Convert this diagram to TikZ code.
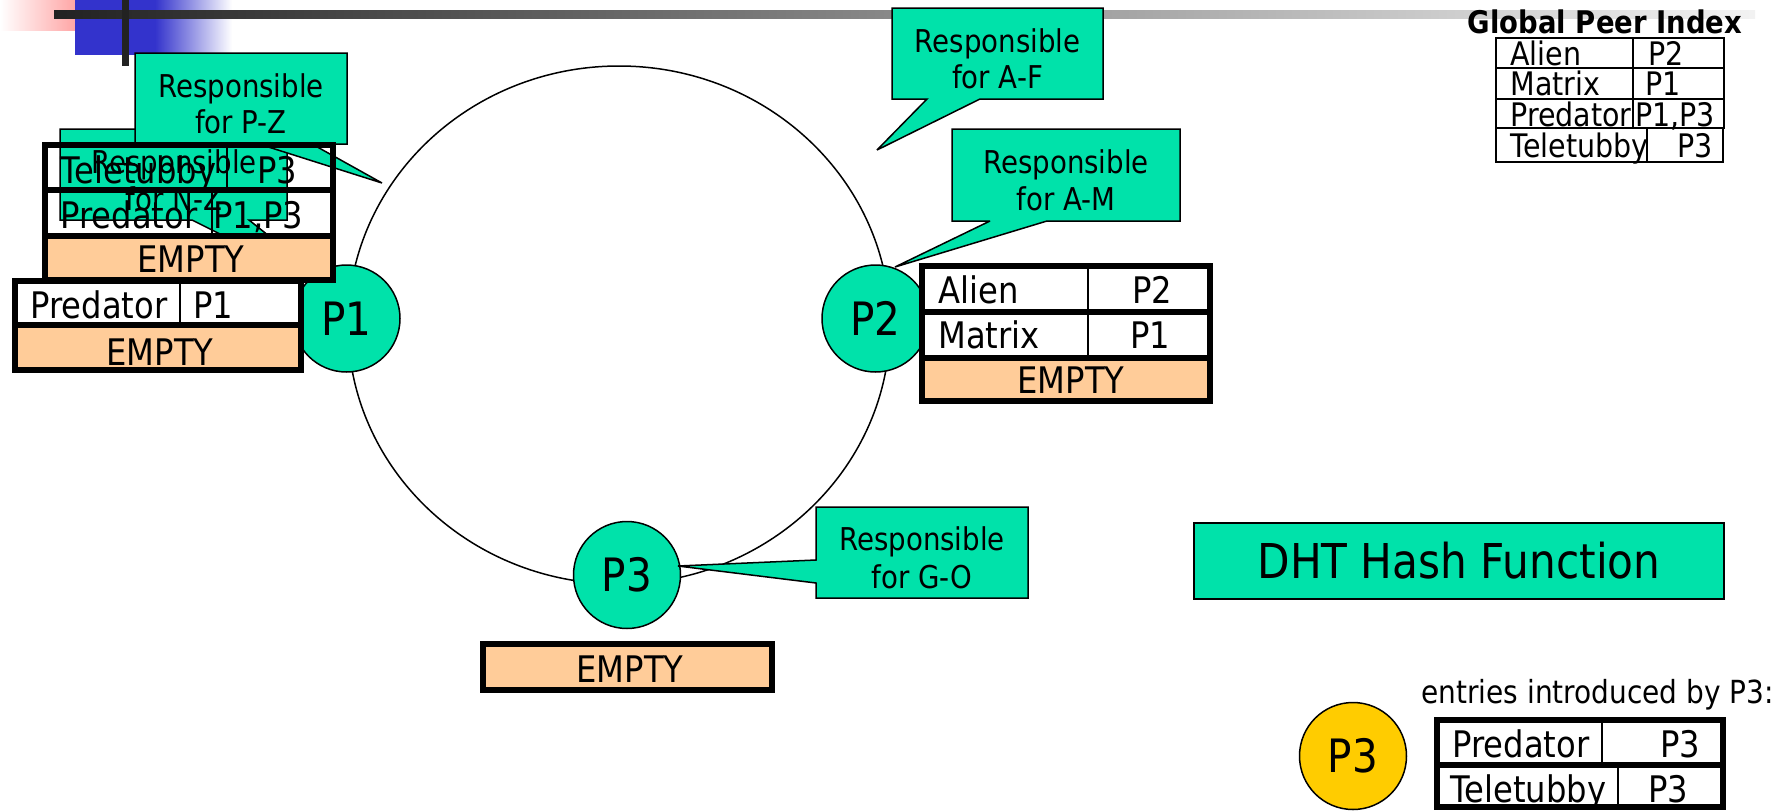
\documentclass[tikz,border=0pt]{standalone}
\usepackage{fontspec}
\setmainfont{DejaVu Sans}[FakeStretch=0.88]
\usetikzlibrary{shapes.geometric}
\definecolor{callgreen}{HTML}{00E2AA}
\definecolor{emptyorange}{HTML}{FFCC99}
\definecolor{newpeer}{HTML}{FFCC00}
\definecolor{barblue}{HTML}{3333CC}
\definecolor{barpink}{HTML}{FF8080}
\definecolor{bardark}{HTML}{222222}
\begin{document}
\begin{tikzpicture}[x=0.5pt, y=-0.5pt,
  every node/.style={inner sep=0pt},
  calloutshape/.style={fill=callgreen, draw=black, line width=0.75pt, miter limit=4},
  calltext/.style={anchor=base, font=\fontsize{15.7pt}{19pt}\selectfont},
  peer/.style={circle, draw=black, line width=0.75pt, fill=callgreen, minimum size=53.5pt,
    font=\fontsize{23pt}{27pt}\selectfont},
  rowbox/.style={draw=black, line width=3pt},
  cellrule/.style={draw=black, line width=1pt},
  thinrule/.style={draw=black, line width=1pt},
  celltext/.style={font=\fontsize{18.3pt}{22pt}\selectfont},
  cellleft/.style={celltext, anchor=base west},
  cellmid/.style={celltext, anchor=base},
  gtext/.style={font=\fontsize{16.2pt}{19pt}\selectfont},
]
\useasboundingbox (0,0) rectangle (1785,810);

% title bar ornament
\shade[left color=white, right color=barpink] (0,0) rectangle (107,30);
\fill[barblue] (75,0) rectangle (156,55);
\shade[left color=barblue, right color=white] (155,0) rectangle (232,55);
\shade[left color=bardark, right color=black!5] (54,10) rectangle (1755,18);
\fill[bardark] (122,0) rectangle (129,66);

% the DHT ring
\node[draw=black, line width=0.75pt, ellipse, minimum width=271pt, minimum height=259pt] (ring) at (619,325) {};

% ---- P1: older index rows (white cells first)
\fill[white] (44.5,145) rectangle (332.5,235.5);

% callout: responsible for N-Z
\coordinate (nztip) at (344,296);
\filldraw[calloutshape] (60,129) -- (287,129) -- (287,220) -- (249,220) -- (nztip) -- (192,220) -- (60,220) -- cycle;
\node[calltext] (nz1) at (174,173) {Responsible};
\node[calltext] (nz2) at (174,210) {for N-Z};

% callout: responsible for P-Z
\coordinate (pztip) at (382,183);
\filldraw[calloutshape] (135,53) -- (347,53) -- (347,144) -- (312,144) -- (pztip) -- (259,144) -- (135,144) -- cycle;
\node[calltext] (pz1) at (241,97) {Responsible};
\node[calltext] (pz2) at (241,133) {for P-Z};

% peer P1
\node[peer] (p1) at (346.5,318.5) {P1};

% P1 index, three rows
\fill[emptyorange] (44.5,235.5) rectangle (332.5,280);
\draw[rowbox] (44.5,145) rectangle (332.5,280);
\draw[rowbox] (44.5,190) -- (332.5,190);
\draw[rowbox] (44.5,235.5) -- (332.5,235.5);
\draw[cellrule] (227,145) -- (227,190);
\draw[cellrule] (212,190) -- (212,235.5);
\node[cellleft] (ta) at (60,183) {Teletubby};
\node[cellleft] (tb) at (257,183) {P3};
\node[cellleft] (tc) at (60,228) {Predator};
\node[cellleft] (td) at (213,228) {P1,P3};
\node[cellmid] (te) at (191,272) {EMPTY};

% P1 index, two rows
\fill[white] (14.5,281) rectangle (301,325);
\fill[emptyorange] (14.5,325) rectangle (301,370);
\draw[rowbox] (14.5,281) rectangle (301,370);
\draw[rowbox] (14.5,325) -- (301,325);
\draw[cellrule] (180,281) -- (180,325);
\node[cellleft] (la) at (30,318) {Predator};
\node[cellleft] (lb) at (193,318) {P1};
\node[cellmid] (lc) at (160,365) {EMPTY};

% ---- P2
\node[peer] (p2) at (875.5,318.5) {P2};
\fill[white] (922,265.5) rectangle (1210,357.5);
\fill[emptyorange] (922,357.5) rectangle (1210,401);
\draw[rowbox] (922,265.5) rectangle (1210,401);
\draw[rowbox] (922,311.5) -- (1210,311.5);
\draw[rowbox] (922,357.5) -- (1210,357.5);
\draw[cellrule] (1088,265.5) -- (1088,357.5);
\node[cellleft] (ra) at (938,303) {Alien};
\node[cellmid] (rb) at (1152,303) {P2};
\node[cellleft] (rc) at (938,348) {Matrix};
\node[cellmid] (rd) at (1150,348) {P1};
\node[cellmid] (re) at (1071,393) {EMPTY};

% callout: responsible for A-M
\coordinate (amtip) at (895,267);
\filldraw[calloutshape] (952,129) -- (1180,129) -- (1180,221) -- (1047,221) -- (amtip) -- (990,221) -- (952,221) -- cycle;
\node[calltext] (am1) at (1066,173) {Responsible};
\node[calltext] (am2) at (1066,210) {for A-M};

% callout: responsible for A-F
\coordinate (aftip) at (877,150);
\filldraw[calloutshape] (892,8) -- (1103,8) -- (1103,99) -- (980,99) -- (aftip) -- (927,99) -- (892,99) -- cycle;
\node[calltext] (af1) at (997.5,52) {Responsible};
\node[calltext] (af2) at (997.5,88) {for A-F};

% ---- P3
\node[peer] (p3) at (627,575) {P3};
\coordinate (gotip) at (678,566);
\filldraw[calloutshape] (816,507) -- (1028,507) -- (1028,598) -- (816,598) -- (816,583) -- (gotip) -- (816,560) -- cycle;
\node[calltext] (go1) at (922,550) {Responsible};
\node[calltext] (go2) at (922,588) {for G-O};

\fill[emptyorange] (483,644) rectangle (771.5,689.5);
\draw[rowbox] (483,644) rectangle (771.5,689.5);
\node[cellmid] (pe) at (630,682) {EMPTY};

% ---- hash function
\node[draw=black, line width=1pt, fill=callgreen, minimum width=265.25pt, minimum height=38pt,
  font=\fontsize{24pt}{28pt}\selectfont] (dht) at (1459,561) {DHT Hash Function};

% ---- new peer P3 and its entries
\node[peer, fill=newpeer] (p3new) at (1353,756) {P3};
\node[anchor=base west, font=\fontsize{15.9pt}{19pt}\selectfont] (entries) at (1421,703) {entries introduced by P3:};
\fill[white] (1436.5,720) rectangle (1723,807);
\draw[rowbox] (1436.5,720) rectangle (1723,807);
\draw[rowbox] (1436.5,765) -- (1723,765);
\draw[cellrule] (1602,720) -- (1602,765);
\draw[cellrule] (1618,765) -- (1618,807);
\node[cellleft] (na) at (1452,757) {Predator};
\node[cellmid] (nb) at (1680,757) {P3};
\node[cellleft] (nc) at (1450,802) {Teletubby};
\node[cellmid] (nd) at (1668,802) {P3};

% ---- global peer index
\node[anchor=base, font=\bfseries\fontsize{15.6pt}{19pt}\selectfont] (gpi) at (1605,33) {Global Peer Index};
\draw[thinrule] (1496,38) rectangle (1724,128);
\draw[thinrule] (1496,68) -- (1724,68);
\draw[thinrule] (1496,99) -- (1724,99);
\draw[thinrule] (1633,38) -- (1633,128);
\draw[thinrule] (1496,128) rectangle (1723,162);
\draw[thinrule] (1647,128) -- (1647,162);
\node[gtext, anchor=base west] (ga) at (1510,65) {Alien};
\node[gtext, anchor=base] (gb) at (1666,65) {P2};
\node[gtext, anchor=base west] (gc) at (1510,95) {Matrix};
\node[gtext, anchor=base] (gd) at (1663,95) {P1};
\node[gtext, anchor=base west] (ge) at (1510,126) {Predator};
\node[gtext, anchor=base west] (gf) at (1635,126) {P1,P3};
\node[gtext, anchor=base west] (gg) at (1510,157) {Teletubby};
\node[gtext, anchor=base] (gh) at (1695,157) {P3};
\end{tikzpicture}
\end{document}
